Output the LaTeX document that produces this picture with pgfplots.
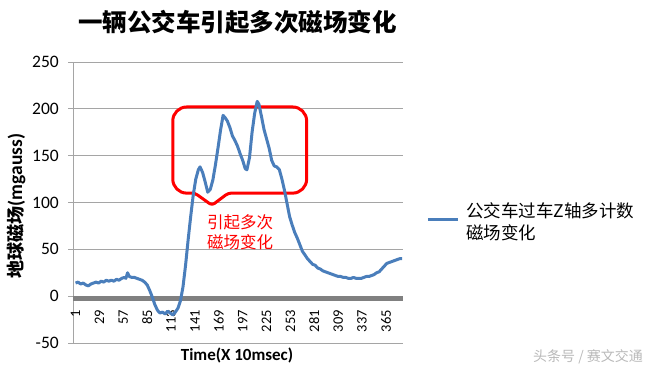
\documentclass[border=0pt]{standalone}
\usepackage{pgfplots}
\pgfplotsset{compat=1.18}
\usepackage{fontspec}
\setmainfont{Carlito}
\newfontfamily\cjk{Noto Sans CJK SC}
\definecolor{excelblue}{RGB}{74,126,187}
\definecolor{gridgray}{RGB}{165,165,165}
\definecolor{zerogray}{RGB}{128,128,128}
\begin{document}
\begin{tikzpicture}[x=1pt,y=1pt]
\path[use as bounding box] (0,0) rectangle (652,370);
\node[font=\cjk\bfseries\fontsize{24.5}{27}\selectfont] at (237.5,348) {一辆公交车引起多次磁场变化};
\begin{axis}[
  at={(73pt,27pt)}, anchor=south west,
  width=330pt, height=281pt, scale only axis,
  xmin=-2, xmax=385, ymin=-50, ymax=250,
  separate axis lines,
  axis y line*=left, axis x line*=bottom,
  x axis line style={draw=none},
  y axis line style={gridgray, line width=0.9pt},
  xtick={1,29,...,365},
  ytick={-50,0,...,250},
  ymajorgrids, grid style={gridgray, line width=0.9pt},
  tick align=outside, major tick length=5pt,
  xtick style={draw=none},
  ytick style={gridgray, line width=0.9pt},
  /pgf/number format/assume math mode=true,
  xticklabel style={rotate=90, anchor=east, inner sep=0pt, font=\fontsize{14.5}{14.5}\selectfont},
  xticklabel shift=-38pt,
  yticklabel style={anchor=east, inner sep=0pt, font=\fontsize{17.5}{17.5}\selectfont},
  yticklabel shift=9pt,
  legend style={at={(1.07,0.432)}, anchor=west, draw=none, fill=none, inner sep=0pt,
    font=\cjk\fontsize{17.5}{22}\selectfont, cells={align=left},
    nodes={inner xsep=7pt}},
  legend image code/.code={\draw[#1] (0pt,2pt) -- (30pt,2pt);},
]
\draw[zerogray, line width=5pt] (axis cs:-2,-2) -- (axis cs:385,-2);
\draw[red, line width=3pt, line join=round, rounded corners=3pt]
  (axis cs:161,97) -- (axis cs:180,110) [rounded corners=14pt] -- (axis cs:272,110)
  -- (axis cs:272,202) -- (axis cs:115,202) -- (axis cs:115,110) [rounded corners=3pt]
  -- (axis cs:141,110) -- cycle;
\node[red, font=\cjk\fontsize{16.5}{19.5}\selectfont, align=center] at (axis cs:194,68) {引起多次\\磁场变化};
\addplot[excelblue, line width=3pt, line join=round] coordinates {
(1,14) (4,15) (7,13) (10,14) (13,12) (16,11) (19,13) (22,14) (25,15) (28,14)
(31,16) (34,15) (37,17) (40,16) (43,17) (46,16) (49,18) (52,17) (55,19) (58,20)
(60,19) (62,25) (64,21) (67,20) (70,20) (73,19) (76,18) (79,17) (82,15) (85,12)
(88,6) (91,-1) (94,-9) (97,-15) (100,-18) (103,-17) (106,-19) (109,-16) (112,-18) (115,-20)
(118,-17) (121,-13) (124,-5) (127,10) (130,33) (133,60) (136,85) (139,108) (142,125) (145,135)
(147,138) (150,132) (153,122) (156,111) (159,114) (162,124) (165,140) (168,158) (171,177) (174,193)
(176,191) (179,187) (182,180) (185,171) (188,166) (191,160) (194,152) (197,145) (200,136) (202,135)
(205,148) (208,175) (211,195) (214,208) (216,205) (219,192) (222,178) (225,168) (228,158) (231,145)
(234,139) (237,138) (240,135) (243,125) (246,113) (249,99) (252,85) (255,76) (258,68) (261,62)
(264,55) (267,48) (270,44) (273,40) (276,37) (279,34) (282,33) (285,30) (288,29) (291,27)
(294,26) (297,25) (300,24) (303,23) (306,22) (309,21) (312,21) (315,20) (318,20) (321,19)
(324,19) (327,20) (330,19) (333,19) (336,19) (339,20) (342,21) (345,21) (348,22) (351,23)
(354,25) (357,26) (360,29) (363,32) (366,35) (369,36) (372,37) (375,38) (378,39) (381,40) (384,40)
};
\addlegendentry{公交车过车Z轴多计数\\磁场变化}
\end{axis}
\node[rotate=90, font=\bfseries\fontsize{19.5}{19.5}\selectfont] at (16,164) {{\cjk\fontsize{18}{18}\selectfont 地球磁场}(mgauss)};
\node[font=\bfseries\fontsize{17}{17}\selectfont] at (237,15) {Time(X 10msec)};
\node[gray!55, font=\cjk\fontsize{14}{14}\selectfont] at (588,13) {头条号 / 赛文交通};
\end{tikzpicture}
\end{document}
